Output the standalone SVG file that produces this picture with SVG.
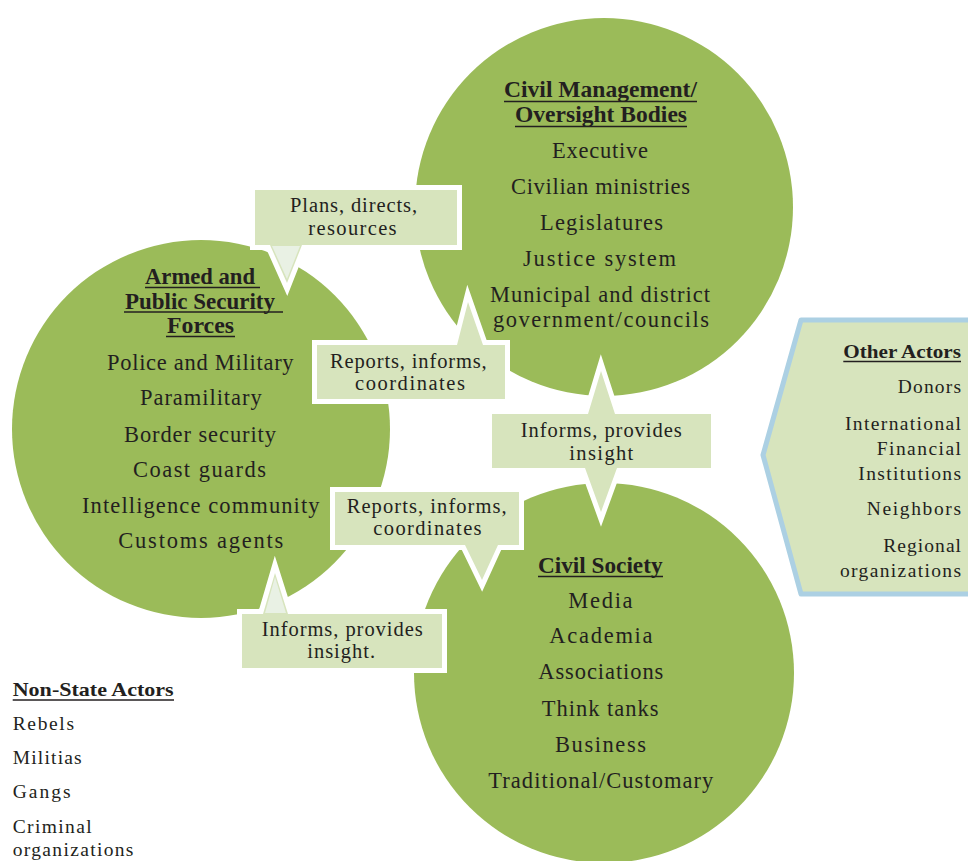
<svg xmlns="http://www.w3.org/2000/svg" width="968" height="861" viewBox="0 0 968 861">
<style>
.circ{fill:#9bbb59}
.t{font-family:"Liberation Serif","Times New Roman",serif;font-size:22.5px;fill:#231f20}
.c{font-size:20.5px}
.b{font-weight:bold}
.s{font-size:19.5px}
.ul{stroke:#231f20;stroke-width:1.7}
.call{fill:#d7e4bd;stroke:#fff;stroke-width:10;stroke-linejoin:miter;paint-order:stroke fill}
.tip{fill:#e9f1e4}
</style>
<rect x="0" y="0" width="968" height="861" fill="#fff"/>

<g id="civil-management">
<circle class="circ" cx="604" cy="207" r="189"/>
<text class="t b" x="504" y="97" textLength="193" lengthAdjust="spacingAndGlyphs">Civil Management/</text>
<line class="ul" x1="504" y1="101.5" x2="697" y2="101.5"/>
<text class="t b" x="515" y="122" textLength="172" lengthAdjust="spacingAndGlyphs">Oversight Bodies</text>
<line class="ul" x1="515" y1="126.5" x2="687" y2="126.5"/>
<text class="t" x="552" y="158" textLength="96" lengthAdjust="spacing">Executive</text>
<text class="t" x="511" y="194" textLength="179" lengthAdjust="spacing">Civilian ministries</text>
<text class="t" x="540" y="230" textLength="123" lengthAdjust="spacing">Legislatures</text>
<text class="t" x="523" y="265.5" textLength="153" lengthAdjust="spacing">Justice  system</text>
<text class="t" x="490" y="302" textLength="220" lengthAdjust="spacing">Municipal and district</text>
<text class="t" x="493" y="327" textLength="216" lengthAdjust="spacing">government/councils</text>
</g>

<g id="armed-forces">
<circle class="circ" cx="201" cy="429" r="189"/>
<text class="t b" x="145" y="284" textLength="110" lengthAdjust="spacingAndGlyphs">Armed and</text>
<line class="ul" x1="145" y1="287.5" x2="260" y2="287.5"/>
<text class="t b" x="125" y="308.5" textLength="150" lengthAdjust="spacingAndGlyphs">Public Security</text>
<line class="ul" x1="124" y1="312" x2="283" y2="312"/>
<text class="t b" x="167" y="333" textLength="67" lengthAdjust="spacingAndGlyphs">Forces</text>
<line class="ul" x1="166" y1="336.5" x2="235" y2="336.5"/>
<text class="t" x="107" y="370" textLength="186.6" lengthAdjust="spacing">Police and Military</text>
<text class="t" x="140" y="405" textLength="121.7" lengthAdjust="spacing">Paramilitary</text>
<text class="t" x="124" y="441.7" textLength="152" lengthAdjust="spacing">Border security</text>
<text class="t" x="133" y="476.7" textLength="133" lengthAdjust="spacing">Coast  guards</text>
<text class="t" x="82" y="513" textLength="237.6" lengthAdjust="spacing">Intelligence community</text>
<text class="t" x="118.3" y="548.3" textLength="165" lengthAdjust="spacing">Customs agents</text>
</g>

<g id="civil-society">
<circle class="circ" cx="604" cy="673" r="190"/>
<text class="t b" x="538" y="572.5" textLength="124.5" lengthAdjust="spacingAndGlyphs">Civil Society</text>
<line class="ul" x1="538" y1="576.5" x2="663" y2="576.5"/>
<text class="t" x="568.3" y="608" textLength="64.3" lengthAdjust="spacing">Media</text>
<text class="t" x="549.3" y="643" textLength="103.3" lengthAdjust="spacing">Academia</text>
<text class="t" x="538.3" y="679" textLength="125" lengthAdjust="spacing">Associations</text>
<text class="t" x="541.7" y="715.5" textLength="116.7" lengthAdjust="spacing">Think tanks</text>
<text class="t" x="555" y="751.5" textLength="91" lengthAdjust="spacing">Business</text>
<text class="t" x="488.3" y="788.3" textLength="225" lengthAdjust="spacing">Traditional/Customary</text>
</g>

<g id="other-actors">
<path d="M975,320 H801 L763,455 L801,594 H975 Z" fill="#d7e4bd" stroke="#acd0e3" stroke-width="5" stroke-linejoin="round"/>
<text class="t s b" x="843.3" y="358" textLength="117.7" lengthAdjust="spacingAndGlyphs">Other Actors</text>
<line class="ul" x1="843.3" y1="361.5" x2="961" y2="361.5"/>
<text class="t s" x="897.7" y="393" textLength="63.3" lengthAdjust="spacing">Donors</text>
<text class="t s" x="845" y="430" textLength="116" lengthAdjust="spacing">International</text>
<text class="t s" x="876.7" y="455" textLength="84.3" lengthAdjust="spacing">Financial</text>
<text class="t s" x="858.3" y="480" textLength="102.7" lengthAdjust="spacing">Institutions</text>
<text class="t s" x="866.7" y="514.5" textLength="94.3" lengthAdjust="spacing">Neighbors</text>
<text class="t s" x="883.3" y="551.5" textLength="77.7" lengthAdjust="spacing">Regional</text>
<text class="t s" x="840" y="576.5" textLength="121" lengthAdjust="spacing">organizations</text>
</g>

<g id="non-state-actors">
<text class="t s b" x="12.7" y="696" textLength="161" lengthAdjust="spacingAndGlyphs">Non-State Actors</text>
<line class="ul" x1="12.7" y1="700" x2="174" y2="700"/>
<text class="t s" x="12.7" y="730" textLength="61.3" lengthAdjust="spacing">Rebels</text>
<text class="t s" x="12.7" y="764" textLength="69" lengthAdjust="spacing">Militias</text>
<text class="t s" x="12.7" y="798" textLength="58" lengthAdjust="spacing">Gangs</text>
<text class="t s" x="12.7" y="832.7" textLength="79" lengthAdjust="spacing">Criminal</text>
<text class="t s" x="12.7" y="856" textLength="120.7" lengthAdjust="spacing">organizations</text>
</g>

<g id="connectors">
<g id="c-plans">
<path class="call" d="M255,190 H457 V245 H302 L287,283 L270,245 H255 Z"/>
<path class="tip" d="M272,246 L300,246 L287,279 Z"/>
<text class="t c" x="290" y="212.3" textLength="127" lengthAdjust="spacing">Plans, directs,</text>
<text class="t c" x="308.3" y="235" textLength="88.3" lengthAdjust="spacing">resources</text>
</g>
<g id="c-reports-up">
<path class="call" d="M317,345 H457 L468,302 L483,345 H505 V399 H317 Z"/>
<text class="t c" x="330" y="367.7" textLength="156.7" lengthAdjust="spacing">Reports, informs,</text>
<text class="t c" x="355" y="390" textLength="110" lengthAdjust="spacing">coordinates</text>
</g>
<g id="c-informs-mid">
<path class="call" d="M492,414 H588 L601,371 L615,414 H711 V468 H617 L601,512 L585,468 H492 Z"/>
<text class="t c" x="520.7" y="436.7" textLength="161" lengthAdjust="spacing">Informs, provides</text>
<text class="t c" x="569.3" y="460" textLength="64" lengthAdjust="spacing">insight</text>
</g>
<g id="c-reports-down">
<path class="call" d="M335,492 H519 V545 H498 L482,580 L465,545 H335 Z"/>
<text class="t c" x="346.7" y="513.3" textLength="160" lengthAdjust="spacing">Reports, informs,</text>
<text class="t c" x="373.3" y="535" textLength="108.3" lengthAdjust="spacing">coordinates</text>
</g>
<g id="c-informs-low">
<path class="call" d="M242,614 H263 L275,573 L288,614 H442 V668 H242 Z"/>
<path class="tip" d="M265,613 L286,613 L275,577 Z"/>
<text class="t c" x="261.7" y="636" textLength="161" lengthAdjust="spacing">Informs, provides</text>
<text class="t c" x="307.3" y="658.3" textLength="67.7" lengthAdjust="spacing">insight.</text>
</g>
</g>
</svg>
